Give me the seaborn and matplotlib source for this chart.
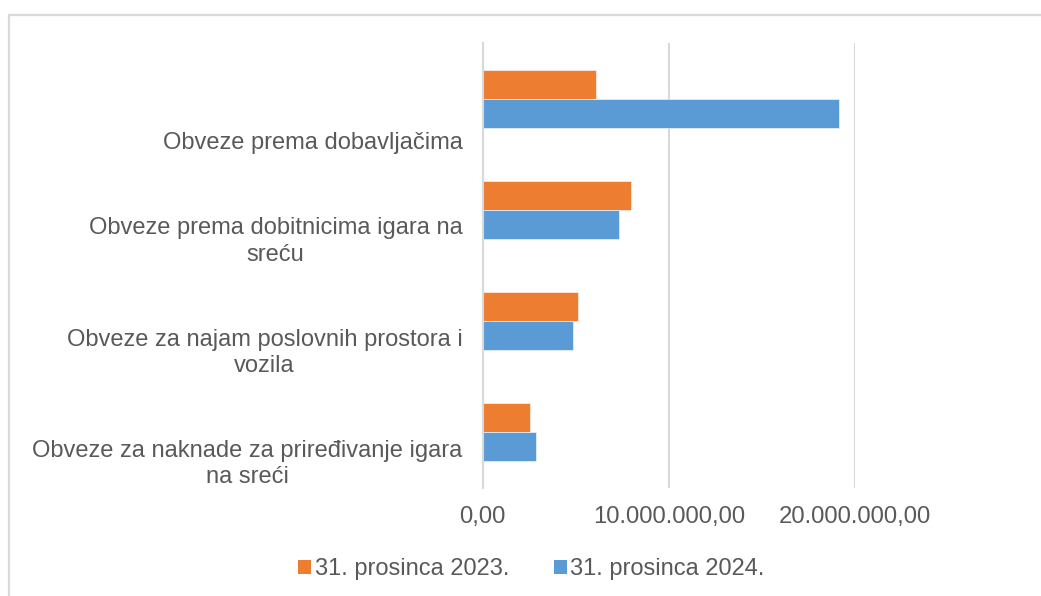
import matplotlib
matplotlib.use("Agg")
import matplotlib.pyplot as plt
import seaborn as sns
import pandas as pd
from matplotlib.ticker import FuncFormatter, FixedLocator
from matplotlib.patches import Patch
from matplotlib.lines import Line2D

categories = [
    "Obveze prema dobavljačima",
    "Obveze prema dobitnicima igara na\nsreću",
    "Obveze za najam poslovnih prostora i\nvozila",
    "Obveze za naknade za priređivanje igara\nna sreći",
]
series_names = ["31. prosinca 2023.", "31. prosinca 2024."]
values_2023 = [6080000, 7950000, 5110000, 2530000]
values_2024 = [19150000, 7320000, 4840000, 2870000]
x_ticks = [0, 10000000, 20000000]

colors = ["#ED7D31", "#5B9BD5"]
text_color = "#595959"
grid_color = "#D9D9D9"

df = pd.DataFrame({
    "category": categories * 2,
    "series": [series_names[0]] * 4 + [series_names[1]] * 4,
    "value": values_2023 + values_2024,
})

sns.set_theme(style="white")
plt.rcParams["font.family"] = ["Liberation Sans", "DejaVu Sans"]

W, H = 1041, 596
fig = plt.figure(figsize=(W / 100, H / 100), dpi=100)
ax = fig.add_axes([482.7 / W, 1 - 487.7 / H, (855 - 482.7) / W, (487.7 - 43.3) / H])

sns.barplot(data=df, y="category", x="value", hue="series", order=categories,
            hue_order=series_names, palette=colors, orient="h", width=0.522,
            saturation=1, ax=ax, legend=False, edgecolor="white", linewidth=0.4)

ax.set_xlim(0, 20000000)
ax.set_ylim(3.5, -0.5)
ax.xaxis.set_major_locator(FixedLocator(x_ticks))
ax.xaxis.set_major_formatter(FuncFormatter(
    lambda v, p: f"{v:,.2f}".replace(",", "X").replace(".", ",").replace("X", ".")))
ax.grid(axis="x", color=grid_color, linewidth=1.5)
ax.set_axisbelow(True)
for s in ["top", "right", "bottom"]:
    ax.spines[s].set_visible(False)
ax.spines["left"].set_color(grid_color)
ax.spines["left"].set_linewidth(1.5)
ax.set_xlabel("")
ax.set_ylabel("")

# category labels: bottom-aligned at the bottom of each band
ax.set_yticks([i + 0.5 for i in range(len(categories))])
ax.set_yticklabels(categories)
for lbl in ax.get_yticklabels():
    lbl.set_va("bottom")
    lbl.set_ha("right")
    lbl.set_multialignment("center")
    lbl.set_fontsize(17)
    lbl.set_color(text_color)
    lbl.set_linespacing(1.24)
ax.tick_params(axis="y", length=0, pad=14.5)
ax.tick_params(axis="x", length=0, pad=13, labelsize=17.2, labelcolor=text_color)

handles = [Patch(facecolor=c, edgecolor="none") for c in colors]
fig.legend(handles, series_names, loc="center", bbox_to_anchor=(531.5 / W, 1 - 569 / H),
           ncol=2, frameon=False, fontsize=17, labelcolor=text_color,
           handlelength=0.55, handleheight=0.55, handletextpad=0.15,
           columnspacing=1.9, borderpad=0, borderaxespad=0)

# chart border
fig.add_artist(Line2D([8.5 / W, 8.5 / W], [0, 1 - 14.5 / H], transform=fig.transFigure,
                      color=grid_color, linewidth=1.6))
fig.add_artist(Line2D([8.5 / W, 1], [1 - 14.5 / H, 1 - 14.5 / H], transform=fig.transFigure,
                      color=grid_color, linewidth=1.6))

fig.savefig("out.png", dpi=100)
